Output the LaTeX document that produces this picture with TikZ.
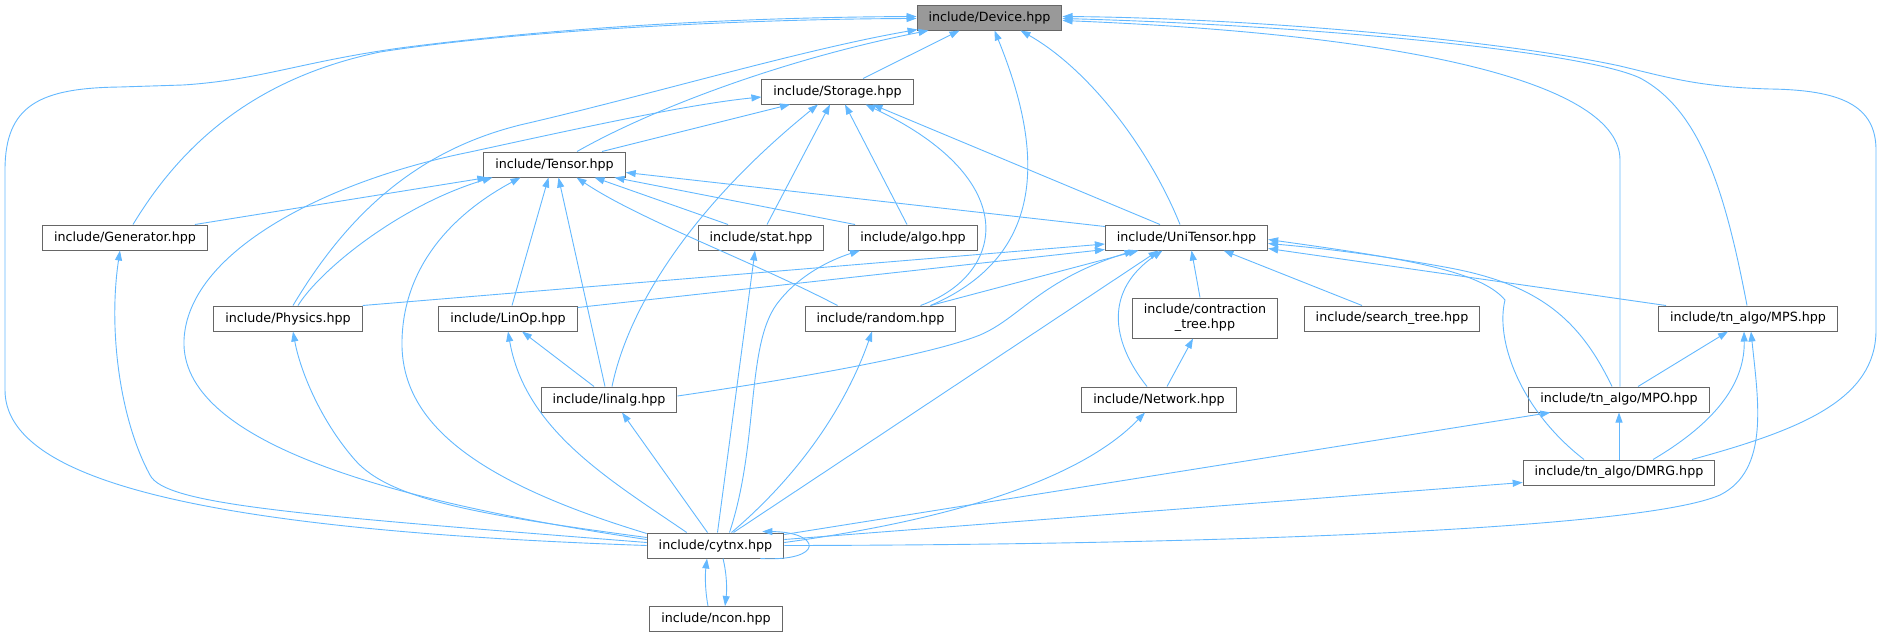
\documentclass[tikz,border=0pt]{standalone}
\usepackage{fontspec}
\setmainfont{DejaVu Sans}
\usetikzlibrary{arrows.meta,calc}
\definecolor{edgeblue}{HTML}{63B8FF}
\definecolor{boxgray}{HTML}{666666}
\definecolor{devgray}{HTML}{999999}
\tikzset{
  filebox/.style={draw=boxgray, line width=1pt, fill=white, minimum height=25pt, inner xsep=11.5pt, inner ysep=0pt, font=\fontsize{12.7}{15}\selectfont, align=center},
  rootbox/.style={filebox, fill=devgray},
  dep/.style={draw=edgeblue, line width=0.9pt, -{Triangle[length=10pt,width=7pt]}}
}
\begin{document}
\begin{tikzpicture}[x=1pt,y=-1pt]
\useasboundingbox (0,0) rectangle (1881,637);
% nodes
\node[rootbox] (Device) at (989.5,17.5) {include/Device.hpp};
\node[filebox] (Storage) at (837.5,91.5) {include/Storage.hpp};
\node[filebox] (Tensor) at (554.5,164.5) {include/Tensor.hpp};
\node[filebox] (Generator) at (125,237.5) {include/Generator.hpp};
\node[filebox] (stat) at (761,237.5) {include/stat.hpp};
\node[filebox] (algo) at (913,237.5) {include/algo.hpp};
\node[filebox] (UniTensor) at (1186.5,237.5) {include/UniTensor.hpp};
\node[filebox] (Physics) at (288,318.5) {include/Physics.hpp};
\node[filebox] (LinOp) at (508,318.5) {include/LinOp.hpp};
\node[filebox] (random) at (880.5,318.5) {include/random.hpp};
\node[filebox, minimum height=40pt] (contraction) at (1205,318) {include/contraction\\\_tree.hpp};
\node[filebox] (search_tree) at (1392,318.5) {include/search\_tree.hpp};
\node[filebox] (MPS) at (1748,318.5) {include/tn\_algo/MPS.hpp};
\node[filebox] (linalg) at (609,399.5) {include/linalg.hpp};
\node[filebox] (Network) at (1159,399.5) {include/Network.hpp};
\node[filebox] (MPO) at (1619,399.5) {include/tn\_algo/MPO.hpp};
\node[filebox] (DMRG) at (1619,472.5) {include/tn\_algo/DMRG.hpp};
\node[filebox] (cytnx) at (715.5,545.5) {include/cytnx.hpp};
\node[filebox] (ncon) at (716,619) {include/ncon.hpp};

% edges into Device
\draw[dep] ($(Storage.north)+(25.5,0)$) -- ($(Device.south)+(-30,0)$);
\draw[dep] ($(Tensor.north)+(22.5,0)$) .. controls (650,110) and (780,60) .. ($(Device.south west)+(12,0)$);
\draw[dep] ($(Physics.north)+(5,0)$) .. controls (350,210) and (420,150) .. (520,125) .. controls (650,95) and (800,50) .. ($(Device.south west)+(1,-1)$);
\draw[dep] ($(Generator.north)+(8,0)$) .. controls (190,130) and (270,75) .. (380,52) .. controls (520,30) and (750,19) .. ($(Device.west)+(0,1)$);
\draw[dep] (cytnx.west) .. controls (200,530) and (5,480) .. (5,390) -- (5,170) .. controls (5,105) and (40,88) .. (120,87) -- (183,85) .. controls (260,80) and (300,62) .. (400,48) .. controls (600,22) and (800,17) .. ($(Device.west)+(0,-1)$);
\draw[dep] ($(random.north)+(50,0)$) .. controls (1060,250) and (1035,130) .. ($(Device.south)+(5,0)$);
\draw[dep] ($(UniTensor.north)+(-6.5,0)$) .. controls (1150,150) and (1090,70) .. ($(Device.south)+(31,0)$);
\draw[dep] ($(MPO.north)+(1,0)$) -- (1620,160) .. controls (1620,85) and (1420,35) .. ($(Device.east)+(0,3)$);
\draw[dep] ($(MPS.north)+(-1,0)$) .. controls (1725,190) and (1700,110) .. (1640,78) .. controls (1580,50) and (1300,25) .. ($(Device.east)+(0,1)$);
\draw[dep] ($(DMRG.north)+(73,0)$) .. controls (1800,430) and (1876,400) .. (1876,330) -- (1876,150) .. controls (1876,105) and (1840,90) .. (1770,89) .. controls (1700,87) and (1670,78) .. (1620,66) .. controls (1500,40) and (1250,18) .. ($(Device.east)+(0,-1)$);

% edges into Storage
\draw[dep] ($(Tensor.north)+(47.5,0)$) -- ($(Storage.south)+(-47.5,0)$);
\draw[dep] ($(cytnx.west)+(0,-6)$) .. controls (380,500) and (180,440) .. (184,340) .. controls (188,250) and (330,180) .. (470,152) .. controls (580,128) and (690,104) .. ($(Storage.west)+(0,5.5)$);
\draw[dep] ($(linalg.north)+(3,0)$) .. controls (630,300) and (700,200) .. ($(Storage.south)+(-19.5,0)$);
\draw[dep] ($(stat.north)+(6,0)$) -- ($(Storage.south)+(-7.5,0)$);
\draw[dep] ($(algo.north)+(-6,0)$) -- ($(Storage.south)+(7.5,0)$);
\draw[dep] ($(random.north)+(40,0)$) .. controls (1005,275) and (1025,180) .. ($(Storage.south)+(28,0)$);
\draw[dep] ($(UniTensor.north)+(-26.5,0)$) -- ($(Storage.south)+(35,0)$);

% edges into Tensor
\draw[dep] ($(Generator.north east)+(-13,0)$) -- ($(Tensor.south west)+(4,0)$);
\draw[dep] ($(Physics.north)+(10,0)$) .. controls (320,270) and (400,205) .. ($(Tensor.south)+(-62,0)$);
\draw[dep] ($(cytnx.north west)+(0,1)$) .. controls (470,480) and (400,420) .. (402,340) .. controls (404,260) and (460,210) .. ($(Tensor.south)+(-34,0)$);
\draw[dep] ($(LinOp.north)+(4,0)$) -- ($(Tensor.south)+(-6,0)$);
\draw[dep] ($(linalg.north)+(-4,0)$) -- ($(Tensor.south)+(4,0)$);
\draw[dep] ($(random.north)+(-43,0)$) .. controls (750,260) and (640,220) .. ($(Tensor.south)+(22,0)$);
\draw[dep] ($(stat.north)+(-33,0)$) -- ($(Tensor.south)+(40,0)$);
\draw[dep] ($(algo.north)+(-58,0)$) -- ($(Tensor.south)+(60,0)$);
\draw[dep] ($(UniTensor.north west)+(0,2)$) -- ($(Tensor.east)+(0,8)$);

% edges into UniTensor
\draw[dep] (Physics.north east) -- ($(UniTensor.west)+(0,6.5)$);
\draw[dep] ($(LinOp.north east)+(0,2)$) -- ($(UniTensor.west)+(0,12)$);
\draw[dep] ($(linalg.east)+(0,-3.5)$) .. controls (800,378) and (930,355) .. (980,335) .. controls (1020,318) and (1040,280) .. ($(UniTensor.south)+(-52,0)$);
\draw[dep] ($(random.north)+(50,0)$) -- ($(UniTensor.south)+(-48,0)$);
\draw[dep] ($(cytnx.north)+(18,0)$) -- ($(UniTensor.south)+(-28,0)$);
\draw[dep] ($(Network.north)+(-12,0)$) .. controls (1110,340) and (1105,290) .. ($(UniTensor.south)+(-24,0)$);
\draw[dep] ($(contraction.north)+(-5,0)$) -- ($(UniTensor.south)+(5,0)$);
\draw[dep] ($(search_tree.north)+(-30,0)$) -- ($(UniTensor.south)+(37,0)$);
\draw[dep] ($(MPS.north west)+(8,0)$) -- ($(UniTensor.east)+(0,11)$);
\draw[dep] ($(MPO.north)+(-7,0)$) .. controls (1580,320) and (1540,285) .. (1450,268) .. controls (1380,255) and (1320,248) .. ($(UniTensor.east)+(0,6)$);
\draw[dep] ($(DMRG.north)+(-35,0)$) .. controls (1520,410) and (1495,340) .. (1505,300) .. controls (1480,270) and (1400,258) .. ($(UniTensor.east)+(0,2)$);

% tensor-network files
\draw[dep] ($(Network.north)+(8,0)$) -- ($(contraction.south)+(-12,0)$);
\draw[dep] ($(MPO.north)+(19,0)$) -- ($(MPS.south)+(-20,0)$);
\draw[dep] ($(DMRG.north)+(34,0)$) .. controls (1720,420) and (1745,380) .. ($(MPS.south)+(-4,0)$);
\draw[dep] (DMRG.north) -- (MPO.south);

% edges from cytnx
\draw[dep] ($(cytnx.north east)+(0,2)$) -- ($(MPO.south west)+(22,0)$);
\draw[dep] ($(cytnx.east)+(0,-6)$) -- ($(DMRG.west)+(0,10)$);
\draw[dep] ($(cytnx.east)+(0,-3)$) .. controls (950,520) and (1080,480) .. ($(Network.south)+(-14,0)$);
\draw[dep] (cytnx.east) .. controls (1200,545) and (1640,530) .. (1720,495) .. controls (1770,470) and (1758,400) .. ($(MPS.south)+(3,0)$);
\draw[dep] ($(cytnx.south east)+(-24,0)$) .. controls (825,562) and (822,532) .. ($(cytnx.north east)+(-22,-1)$);
\draw[dep] ($(ncon.north)+(-8,0)$) .. controls (705,590) and (705,575) .. ($(cytnx.south)+(-8.5,0)$);
\draw[dep] ($(cytnx.south)+(7.5,0)$) .. controls (727,575) and (727,590) .. ($(ncon.north)+(9,0)$);
\draw[dep] ($(cytnx.west)+(0,-3)$) .. controls (300,515) and (165,505) .. (150,475) .. controls (120,420) and (108,330) .. ($(Generator.south)+(-5,0)$);
\draw[dep] ($(cytnx.west)+(0,-8)$) .. controls (480,515) and (390,500) .. (355,460) .. controls (320,420) and (300,370) .. ($(Physics.south)+(5,0)$);
\draw[dep] ($(cytnx.north west)+(40,0)$) .. controls (610,480) and (525,430) .. (LinOp.south);
\draw[dep] ($(cytnx.north)+(-8,0)$) -- ($(linalg.south)+(13,0)$);
\draw[dep] ($(cytnx.north)+(2,0)$) -- ($(stat.south)+(-6,0)$);
\draw[dep] ($(cytnx.north)+(14,0)$) .. controls (760,440) and (745,340) .. (780,300) .. controls (800,275) and (830,260) .. ($(algo.south)+(-53,0)$);
\draw[dep] ($(cytnx.north)+(16,0)$) .. controls (805,470) and (848,400) .. ($(random.south)+(-8.5,0)$);
\draw[dep] ($(linalg.north)+(-15,0)$) -- ($(LinOp.south)+(14,0)$);
\end{tikzpicture}
\end{document}
